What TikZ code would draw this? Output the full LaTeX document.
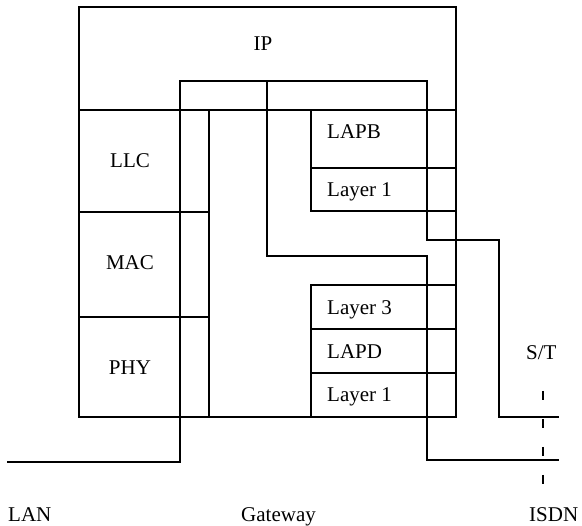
\documentclass[tikz,border=0pt]{standalone}
\usepackage{fontspec}
\setmainfont{Liberation Serif}
\begin{document}
\begin{tikzpicture}[x=1pt,y=-1pt,
  ln/.style={line width=1.3pt,line cap=rect},
  lbl/.style={inner sep=0pt,font=\fontsize{21}{25}\selectfont},
  lblw/.style={lbl,anchor=base west},
  lblc/.style={lbl,anchor=base}]
\useasboundingbox (0,0) rectangle (582,526);
% coordinates
\coordinate (oTL) at (79,7);
\coordinate (oTR) at (456,7);
\coordinate (oBR) at (456,417);
\coordinate (oBL) at (79,417);
% outer box and IP divider
\draw[ln] (oTL) -- (oTR) -- (oBR) -- (oBL) -- cycle;
\draw[ln] (79,110) -- (456,110);
% LAN stack
\draw[ln] (79,212) -- (209,212);
\draw[ln] (79,317) -- (209,317);
\draw[ln] (209,110) -- (209,417);
% gateway relay paths
\coordinate (lanEnd) at (8,462);
\coordinate (bEnd) at (558,417);
\coordinate (dEnd) at (558,460);
\draw[ln] (lanEnd) -- (180,462) -- (180,81) -- (427,81) -- (427,240) -- (499,240) -- (499,417) -- (bEnd);
\draw[ln] (267,81) -- (267,256) -- (427,256) -- (427,460) -- (dEnd);
% ISDN B-channel stack
\draw[ln] (311,110) -- (311,211);
\draw[ln] (311,168) -- (456,168);
\draw[ln] (311,211) -- (456,211);
% ISDN D-channel stack
\draw[ln] (311,285) -- (311,417);
\draw[ln] (311,285) -- (456,285);
\draw[ln] (311,329) -- (456,329);
\draw[ln] (311,373) -- (456,373);
% S/T reference point
\coordinate (stTop) at (543,391);
\coordinate (stBot) at (543,489);
\draw[line width=1.3pt,dash pattern=on 9pt off 19pt] (stTop) -- (stBot);
% labels
\node[lblc] (ip) at (263,51) {IP};
\node[lblc] (llc) at (130,168) {LLC};
\node[lblc] (mac) at (130,270) {MAC};
\node[lblc] (phy) at (130,375) {PHY};
\node[lblw] (lapb) at (327,139) {LAPB};
\node[lblw] (l1b) at (327,197) {Layer 1};
\node[lblw] (l3) at (327,315) {Layer 3};
\node[lblw] (lapd) at (327,359) {LAPD};
\node[lblw] (l1d) at (327,402) {Layer 1};
\node[lblw] (st) at (526,360) {S/T};
\node[lblw] (lan) at (8,522) {LAN};
\node[lblw] (gw) at (241,522) {Gateway};
\node[lblw] (isdn) at (529,522) {ISDN};
\end{tikzpicture}
\end{document}
